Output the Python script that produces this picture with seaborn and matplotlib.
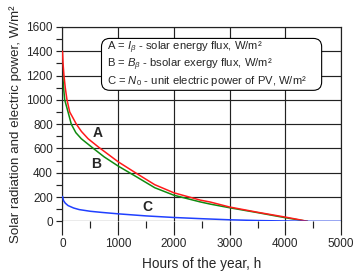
import numpy as np
import pandas as pd
import matplotlib
matplotlib.use("Agg")
import matplotlib.pyplot as plt
from matplotlib.patches import FancyBboxPatch
import seaborn as sns

# duration curves
hours_a = [0, 10, 27, 50, 81, 130, 190, 249, 340, 460, 650, 1000, 1334, 1655, 2000, 2473, 2653, 3000, 3500, 4000, 4200, 4400]
flux_a = [1400, 1300, 1200, 1100, 1000, 900, 850, 800, 740, 680, 610, 490, 393, 302, 235, 175, 159, 118, 75, 35, 18, 0]

hours_b = [0, 5, 20, 40, 100, 158, 240, 338, 555, 750, 1000, 1334, 1655, 2000, 2473, 2653, 3000, 3500, 4000, 4200, 4400]
flux_b = [1300, 1200, 1100, 1000, 900, 800, 730, 680, 600, 530, 455, 365, 277, 215, 160, 142, 112, 72, 30, 15, 0]

hours_c = [0, 20, 50, 100, 200, 300, 500, 700, 1000, 1500, 2000, 2500, 3000, 3500, 4000, 4400, 5000]
power_c = [205, 170, 150, 130, 110, 97, 83, 74, 62, 45, 32, 22, 13, 7, 3, 0, 0]

legend_lines = [r"A = $I_\beta$ - solar energy flux, W/m²",
                r"B = $B_\beta$ - bsolar exergy flux, W/m²",
                r"C = $N_0$ - unit electric power of PV, W/m²"]
legend_y = [1430, 1290, 1152]

curve_labels = ["A", "B", "C"]
label_pos = [(640, 730), (600, 470), (1520, 115)]

sns.set_style("ticks")
plt.rcParams['font.family'] = ['Liberation Sans', 'DejaVu Sans']
plt.rcParams['mathtext.fontset'] = 'custom'
plt.rcParams['mathtext.rm'] = 'Liberation Sans'
plt.rcParams['mathtext.it'] = 'Liberation Sans:italic'

df_a = pd.DataFrame({'h': hours_a, 'v': flux_a})
df_b = pd.DataFrame({'h': hours_b, 'v': flux_b})
df_c = pd.DataFrame({'h': hours_c, 'v': power_c})

fig = plt.figure(figsize=(3.55, 2.75), dpi=100)
ax = fig.add_axes([0.176, 0.195, 0.785, 0.707])

grid_col = '#222222'
for x in range(0, 5001, 1000):
    ax.axvline(x, color=grid_col, lw=0.85, zorder=1)
for y in range(0, 1601, 200):
    ax.axhline(y, color=grid_col, lw=0.85, zorder=1)

sns.lineplot(data=df_a, x='h', y='v', color='#ff1a1a', lw=1.1, ax=ax, zorder=3)
sns.lineplot(data=df_b, x='h', y='v', color='#108a10', lw=1.1, ax=ax, zorder=2)
sns.lineplot(data=df_c, x='h', y='v', color='#2040ff', lw=1.1, ax=ax, zorder=3)

for lab, (x, y) in zip(curve_labels, label_pos):
    ax.text(x, y, lab, fontsize=10, fontweight='bold', ha='center', va='center', zorder=5)

# rounded legend box, drawn in axes coords so the corners stay round
box = FancyBboxPatch((0.14, 0.674), 0.79, 0.267, transform=ax.transAxes,
                     boxstyle='round,pad=0,rounding_size=0.03', mutation_aspect=279 / 195,
                     fc='white', ec='black', lw=0.8, zorder=6)
ax.add_patch(box)
for line, y in zip(legend_lines, legend_y):
    ax.text(800, y, line, fontsize=8.1, ha='left', va='center', zorder=7)

ax.set_xlim(0, 5000)
ax.set_ylim(0, 1600)
ax.set_xticks(np.arange(0, 5001, 1000))
ax.set_xticks(np.arange(500, 5000, 1000), minor=True)
ax.set_yticks(np.arange(0, 1601, 200))
ax.set_yticks(np.arange(100, 1600, 200), minor=True)
ax.tick_params(axis='x', which='major', length=10, width=0.85, pad=2, labelsize=8.5, color=grid_col)
ax.tick_params(axis='x', which='minor', length=5, width=0.85, color=grid_col)
ax.tick_params(axis='y', which='both', length=4, width=0.85, pad=3, labelsize=8.5, color=grid_col)

for side in ['left', 'right', 'top']:
    ax.spines[side].set_color(grid_col)
    ax.spines[side].set_linewidth(0.85)
ax.spines['bottom'].set_visible(False)

ax.set_xlabel("Hours of the year, h", fontsize=9.8, labelpad=5)
ax.set_ylabel("Solar radiation and electric power, W/m²", fontsize=9.6, labelpad=3)

fig.savefig("out.png", dpi=100, facecolor='white')
